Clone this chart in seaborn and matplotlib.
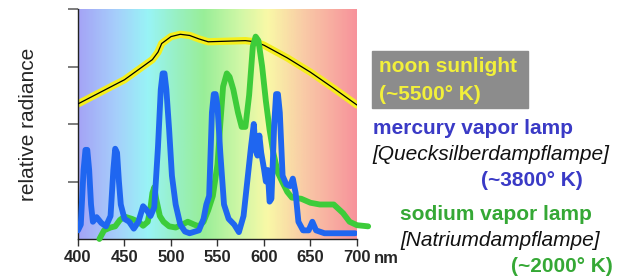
import numpy as np
import pandas as pd
import matplotlib
matplotlib.use("Agg")
import matplotlib.pyplot as plt
from matplotlib.colors import LinearSegmentedColormap
from matplotlib.patches import Rectangle
import seaborn as sns

# noon sunlight (~5500 K)
sun_nm = [400, 450, 480, 486, 490, 500, 510, 520, 530, 540, 560, 580, 590, 600, 625, 650, 675, 700]
sun_val = [2.35, 2.77, 3.12, 3.25, 3.40, 3.52, 3.56, 3.54, 3.48, 3.43, 3.44, 3.45, 3.43, 3.37, 3.15, 2.90, 2.62, 2.33]

# mercury vapor lamp
hg_nm = [400, 403, 406, 408, 410, 412, 414, 416, 420, 425, 430, 435, 438, 440, 442, 444, 446, 450,
         455, 460, 465, 470, 474, 478, 482, 486, 489, 491, 493, 495, 498, 501, 505, 510, 515, 520,
         530, 535, 538, 541, 544, 546, 548, 550, 553, 557, 562, 568, 573, 578, 582, 586, 589, 591,
         593, 595, 597, 600, 602, 604, 606, 608, 611, 613, 615, 617, 620, 624, 628, 631, 634, 637,
         642, 648, 652, 656, 665, 698]
hg_val = [0.15, 0.25, 1.20, 1.55, 1.55, 1.20, 0.60, 0.30, 0.38, 0.28, 0.22, 0.40, 1.20, 1.57, 1.50,
          1.00, 0.60, 0.35, 0.30, 0.18, 0.30, 0.57, 0.50, 0.40, 0.55, 1.60, 2.60, 2.88, 2.88, 2.60,
          1.90, 1.10, 0.60, 0.25, 0.13, 0.10, 0.15, 0.35, 0.60, 0.75, 2.20, 2.52, 2.52, 2.30, 1.50,
          0.60, 0.35, 0.25, 0.12, 0.40, 1.00, 1.60, 2.00, 1.55, 1.45, 1.80, 1.50, 1.22, 1.00, 1.20,
          0.65, 0.70, 2.00, 2.52, 2.52, 2.20, 1.10, 0.95, 0.92, 1.05, 0.80, 0.30, 0.15, 0.15, 0.30,
          0.15, 0.10, 0.10]

# sodium vapor lamp
na_nm = [423, 428, 435, 440, 445, 450, 458, 465, 470, 475, 478, 480, 482, 484, 488, 492, 498, 505,
         512, 518, 525, 530, 535, 540, 545, 550, 553, 556, 560, 563, 567, 572, 576, 580, 584, 588,
         591, 594, 598, 602, 606, 610, 615, 620, 625, 630, 640, 650, 660, 675, 685, 692, 700, 712]
na_val = [0.00, 0.15, 0.20, 0.22, 0.33, 0.39, 0.35, 0.30, 0.23, 0.30, 0.55, 0.80, 0.90, 0.70, 0.40,
          0.30, 0.22, 0.20, 0.25, 0.30, 0.25, 0.22, 0.30, 0.50, 0.75, 1.30, 2.00, 2.65, 2.88, 2.82,
          2.60, 2.20, 1.95, 1.95, 2.50, 3.35, 3.52, 3.45, 3.00, 2.40, 1.90, 1.50, 1.15, 0.98, 0.82,
          0.72, 0.70, 0.63, 0.60, 0.60, 0.45, 0.30, 0.24, 0.22]

x_ticks = [400, 450, 500, 550, 600, 650, 700]
x_labels = ["400", "450", "500", "550", "600", "650", "700"]

sns.set_theme(style="ticks")
plt.rcParams["font.family"] = ["Liberation Sans", "DejaVu Sans"]

W, H = 630, 279
fig = plt.figure(figsize=(W / 100, H / 100), dpi=100)
ax = fig.add_axes([78 / W, 40 / H, 279 / W, 230 / H])

# pastel spectrum background
spectrum = LinearSegmentedColormap.from_list("spec", [
    (0.00, "#a4a4f6"), (0.13, "#a6cdfb"), (0.25, "#98f4f6"), (0.35, "#98f0c4"),
    (0.45, "#98ee98"), (0.58, "#cff7a6"), (0.68, "#f9f9a6"), (0.82, "#f9c8a6"),
    (1.00, "#f7939b")])
grad = np.linspace(0, 1, 300).reshape(1, -1)
ax.imshow(grad, cmap=spectrum, aspect="auto", extent=(400, 700, 0, 4), zorder=0)

sun = pd.DataFrame({"nm": sun_nm, "val": sun_val})
hg = pd.DataFrame({"nm": hg_nm, "val": hg_val})
na = pd.DataFrame({"nm": na_nm, "val": na_val})

round_kw = dict(solid_joinstyle="round", solid_capstyle="round", sort=False)
sns.lineplot(data=sun, x="nm", y="val", ax=ax, color="#f5ef1c", lw=5.2, zorder=2, **round_kw)
sns.lineplot(data=sun, x="nm", y="val", ax=ax, color="black", lw=0.9, zorder=3, **round_kw)
sns.lineplot(data=na, x="nm", y="val", ax=ax, color="#3dcc3a", lw=4.2, zorder=4,
             clip_on=False, **round_kw)
sns.lineplot(data=hg, x="nm", y="val", ax=ax, color="#1f66f0", lw=4.2, zorder=5, **round_kw)

ax.set_xlim(400, 700)
ax.set_ylim(0, 4)
ax.set_xticks(x_ticks)
ax.set_xticklabels(x_labels, fontsize=12, fontweight="bold")
ax.set_yticks([1, 2, 3, 4])
ax.set_yticklabels([])
ax.tick_params(axis="x", length=5, width=1, color="#333333", pad=3)
ax.tick_params(axis="y", length=7.5, width=1.2, color="#666666")
ax.set_xlabel("")
ax.set_ylabel("relative radiance", fontsize=15, labelpad=18)
ax.annotate("nm", xy=(700, 0), xytext=(12, -14), textcoords="offset points",
            fontsize=12, fontweight="bold", ha="left", va="center")
sns.despine(ax=ax)
for s in ["left", "bottom"]:
    ax.spines[s].set_color("#222222")
    ax.spines[s].set_linewidth(1)


def ftxt(x, y, s, **kw):
    fig.text(x / W, 1 - y / H, s, va="center", **kw)


fig.patches.append(Rectangle((372 / W, 1 - 108 / H), 156 / W, 57 / H,
                             transform=fig.transFigure, color="#8c8c8c", zorder=0))
ftxt(379, 67, "noon sunlight", fontsize=15, fontweight="bold", color="#f2f03a")
ftxt(379, 95, "(~5500° K)", fontsize=15, fontweight="bold", color="#f2f03a")
ftxt(373, 128, "mercury vapor lamp", fontsize=15, fontweight="bold", color="#3a3ac6")
ftxt(372, 155, "[Quecksilberdampflampe]", fontsize=15, style="italic", color="#111111")
ftxt(583, 180, "(~3800° K)", fontsize=15, fontweight="bold", color="#3a3ac6", ha="right")
ftxt(400, 215, "sodium vapor lamp", fontsize=15, fontweight="bold", color="#35a835")
ftxt(400, 240, "[Natriumdampflampe]", fontsize=15, style="italic", color="#111111")
ftxt(613, 267, "(~2000° K)", fontsize=15, fontweight="bold", color="#35a835", ha="right")

fig.savefig("out.png", dpi=100)
